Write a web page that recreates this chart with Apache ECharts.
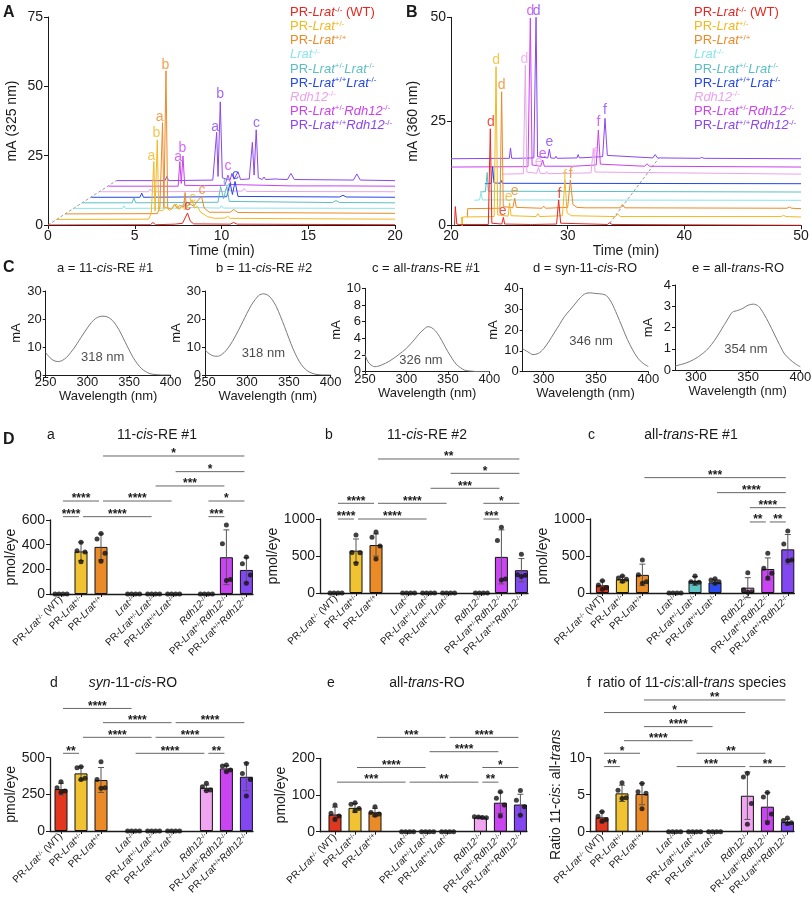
<!DOCTYPE html>
<html lang="en">
<head>
<meta charset="UTF-8">
<title>Retinoid HPLC and quantification</title>
<style>
  html, body { margin: 0; background: #fff; }
  #chart { width: 812px; height: 900px; }
</style>
</head>
<body>
<div id="chart"></div>
<script src="https://cdn.jsdelivr.net/npm/echarts@6/dist/echarts.min.js"></script>
<script>
var FONT = 'Liberation Sans, Arial, Helvetica, sans-serif';
var INK = '#1a1a1a';

// ---- groups ----
var groupNames = ['PR-Lrat-/- (WT)', 'PR-Lrat+/-', 'PR-Lrat+/+', 'Lrat-/-', 'PR-Lrat+/-Lrat-/-',
  'PR-Lrat+/+Lrat-/-', 'Rdh12-/-', 'PR-Lrat+/-Rdh12-/-', 'PR-Lrat+/+Rdh12-/-'];
var groupLabels = ['PR-{i|Lrat}{s|-/-} (WT)', 'PR-{i|Lrat}{s|+/-}', 'PR-{i|Lrat}{s|+/+}', '{i|Lrat}{s|-/-}',
  'PR-{i|Lrat}{s|+/-}{i|Lrat}{s|-/-}', 'PR-{i|Lrat}{s|+/+}{i|Lrat}{s|-/-}', '{i|Rdh12}{s|-/-}',
  'PR-{i|Lrat}{s|+/-}{i|Rdh12}{s|-/-}', 'PR-{i|Lrat}{s|+/+}{i|Rdh12}{s|-/-}'];
var traceColors = ['#e8251f', '#f4b81f', '#ed8a26', '#8ae4ee', '#5bbfc2', '#2346ef', '#eba3ec', '#cc40f1', '#8a45ef'];
var barColors = ['#e3361f', '#f1c232', '#eb8b27', '#8ae4ee', '#5ec6c6', '#2b4cf2', '#efa5f0', '#c945f2', '#8347f1'];

// ---- A: chromatograms at 325 nm (stacked as drawn) ----
var tracesA = [
  [[0,0],[5.9,0.1],[6.05,0.9],[6.2,0.1],[7.3,0.3],[7.75,0.6],[8.04,4.3],[8.2,1.4],[8.4,0.4],[10.5,0.3],[10.7,0.9],[10.9,0.3],[20,0.1]],
  [[0.5,2],[5.8,2.1],[5.95,4.2],[6.1,22.9],[6.17,5],[6.3,30.7],[6.38,5.4],[6.6,5.1],[6.8,6.5],[7.0,5.2],[7.2,6.3],[7.4,7.6],[7.55,5.6],[7.7,6.9],[7.9,5.5],[8.1,7.4],[8.3,9.1],[8.45,6.1],[8.6,6.7],[8.8,4.6],[9.2,3.0],[9.6,2.4],[10.2,2.5],[10.35,3.1],[10.5,2.4],[20,2.1]],
  [[1,4],[6.3,4.1],[6.45,6.5],[6.6,36.9],[6.68,6.2],[6.8,55.6],[6.9,6.2],[7.1,5.6],[7.3,7.5],[7.45,6],[7.6,7.1],[7.82,6.5],[7.9,11.7],[7.98,6.6],[8.2,7.5],[8.4,6.8],[8.6,8.5],[8.85,10.3],[9.0,6.1],[9.3,4.6],[10.5,4.6],[10.7,5.6],[10.95,4.5],[20,4.2]],
  [[1.5,6],[4.3,6],[4.38,6.9],[4.46,6],[7.7,6.1],[7.85,8.8],[8.0,6.3],[9.9,6.1],[10.0,7],[10.1,6.1],[20,6]],
  [[2,8],[4.85,8],[4.95,9.8],[5.05,8],[9.8,8.2],[9.95,13.9],[10.12,9.5],[10.3,13.9],[10.45,8.5],[16.4,8.1],[16.6,8.8],[16.8,8.1],[20,8]],
  [[2.5,10],[5.3,10],[5.4,11.5],[5.5,10],[10.3,10.2],[10.5,15.1],[10.63,11],[10.78,15.7],[10.95,10.3],[16.8,10.1],[17.0,10.7],[17.2,10.1],[20,10]],
  [[3,12],[5.8,12],[5.9,13],[6.0,12],[10.2,12.1],[10.35,13.8],[10.5,12.3],[11.2,12.2],[11.3,13.2],[11.45,12.1],[20,12]],
  [[3.5,14],[7.5,14],[7.6,22.9],[7.68,15],[7.78,24.9],[7.88,14.3],[8.8,14.2],[8.9,14.9],[9.0,14.2],[10.2,14.3],[10.37,18],[10.55,14.6],[14.0,14.1],[14.1,14.6],[14.2,14.1],[16.5,14.1],[16.6,14.6],[16.7,14.1],[20,14]],
  [[3.94,16],[6.75,16],[6.85,17.5],[6.95,16],[9.5,16.2],[9.72,33.4],[9.8,17.5],[9.93,44.4],[10.05,17],[10.3,16.5],[10.5,16.3],[10.6,18.6],[10.72,16.5],[10.95,19.2],[11.1,16.4],[11.6,16.6],[11.78,29.8],[11.88,18],[12.0,34.3],[12.12,17],[12.35,16.4],[12.45,17.3],[12.55,16.4],[13.1,16.6],[13.2,17],[13.3,16.5],[13.8,16.4],[14.0,18.6],[14.2,16.4],[17.6,16.2],[17.8,18.4],[18.0,16.2],[20,16]]
];
var peaksA = [[5.96,25.0,'a',1],[6.25,33.1,'b',1],[6.44,38.8,'a',2],[6.77,57.6,'b',2],
  [7.5,24.4,'a',7],[7.75,27.7,'b',7],[9.63,35.4,'a',8],[9.92,47.1,'b',8],[12.02,36.6,'c',8],
  [8.04,6.7,'c',0],[8.33,9.7,'c',1],[8.87,12.5,'c',2],[10.29,15.3,'c',4],[10.81,18.1,'c',5],[10.38,21.1,'c',7]];
var guideA = [[0,0],[3.94,16]];

// ---- B: chromatograms at 360 nm ----
var tracesB = [
  [[20.3,0],[20.37,4.5],[20.45,4.5],[20.5,0.3],[20.7,0.2],[23.2,0.2],[23.37,23.2],[23.5,0.5],[24.35,0.3],[24.49,1.9],[24.6,0.3],[26.8,0.2],[26.9,0.6],[27.0,0.2],[29.05,0.3],[29.23,6.1],[29.4,0.5],[33.4,0.2],[33.6,0.6],[33.8,0.2],[50,0]],
  [[20.9,2],[20.95,-0.7],[21.0,2],[23.7,2.1],[23.86,38.1],[24.0,2.5],[24.9,2.2],[25.02,5.4],[25.15,2.3],[27.3,2.1],[27.45,2.8],[27.6,2.1],[29.55,2.3],[29.77,10.9],[29.95,3],[30.3,2.3],[34.1,2.1],[34.3,2.7],[34.5,2.1],[48.3,2.1],[48.5,2.4],[48.7,2.1],[50,2]],
  [[21.4,2],[21.43,4],[24.2,4.1],[24.34,32.1],[24.48,4.5],[25.3,4.2],[25.46,6.5],[25.6,4.3],[27.8,4.1],[27.95,4.6],[28.1,4.1],[30.0,4.3],[30.23,10.9],[30.45,5],[30.8,4.3],[31.5,4.2],[31.65,4.6],[31.8,4.2],[34.5,4.2],[34.7,5],[34.9,4.2],[48.8,4.1],[49.0,4.4],[49.2,4.1],[50,4]],
  [[22.0,6],[22.45,6.1],[22.57,7.8],[22.7,6.1],[50,6]],
  [[22.5,8],[22.95,8.1],[23.1,12.7],[23.2,8.2],[50,8]],
  [[22.9,10],[23.45,10.1],[23.57,14.1],[23.68,10.2],[24.2,10.1],[24.3,10.8],[24.4,10.1],[50,10]],
  [[24.4,12.3],[26.2,12.4],[26.37,38.5],[26.5,12.8],[27.35,12.5],[27.5,13.9],[27.65,12.5],[28.1,12.4],[28.2,12.9],[28.3,12.4],[32.0,12.6],[32.2,18.5],[32.35,12.8],[50,12.3]],
  [[20,14],[26.6,14.1],[26.8,49.8],[26.95,14.5],[27.7,14.2],[27.86,15.7],[28.0,14.2],[30.3,14.2],[30.4,14.6],[30.5,14.2],[32.45,14.5],[32.63,22.9],[32.8,14.7],[36.6,14.2],[36.8,14.8],[37.0,14.2],[50,14]],
  [[20,16],[25.0,16.1],[25.1,18.6],[25.2,16.1],[25.5,16.1],[25.6,16.5],[25.7,16.1],[27.1,16.2],[27.29,50],[27.42,16.5],[28.3,16.2],[28.43,18.3],[28.55,16.2],[28.9,16.1],[29.0,16.6],[29.1,16.1],[30.8,16.2],[30.9,17],[31.0,16.2],[33.0,16.5],[33.2,25.7],[33.4,16.8],[37.3,16.2],[37.5,17],[37.7,16.2],[41.3,16.1],[41.5,16.3],[41.7,16.1],[50,16]]
];
var peaksB = [[23.43,24.7,'d',0],[24.43,3.5,'e',0],[29.29,7.5,'f',0],
  [23.86,39.6,'d',1],[24.94,6.7,'e',1],[29.77,11.9,'f',1],
  [24.34,33.8,'d',2],[25.46,8.3,'e',2],[30.26,12.3,'f',2],
  [26.29,39.9,'d',6],[27.51,15.1,'e',6],[32.34,17.1,'f',6],
  [26.8,51.4,'d',7],[27.86,17.1,'e',7],[32.63,24.7,'f',7],
  [27.34,51.4,'d',8],[28.43,19.9,'e',8],[33.2,27.7,'f',8]];
var guideB = [[33.6,0.5],[37.8,16.1]];

// ---- C: UV spectra ----
var specA = [[250,8],[255,6.2],[260,5.1],[265,4.8],[270,5.2],[275,6.3],[280,8],[285,10],[290,12.3],[295,14.6],[300,16.8],[305,18.8],[310,20.2],[315,20.9],[320,21],[325,20.6],[330,19.5],[335,17.6],[340,15],[345,12],[350,9],[355,6.2],[360,4],[365,2.3],[370,1.2],[375,0.5],[380,0.2],[385,0.1],[390,0],[400,0]];
var specB = [[250,9],[255,7.6],[260,6.8],[265,6.7],[270,7.3],[275,8.7],[280,10.7],[285,13.2],[290,16],[295,19],[300,22],[305,24.8],[310,27],[315,28.6],[320,29],[325,28.5],[330,27],[335,24.5],[340,21],[345,17.2],[350,13.2],[355,9.4],[360,6.2],[365,3.7],[370,2],[375,1],[380,0.4],[385,0.15],[390,0.05],[400,0]];
var specC = [[250,2.2],[252,1.5],[256,0.9],[262,0.6],[270,0.8],[280,1.3],[290,2],[300,2.8],[310,3.9],[315,4.5],[320,5],[326,5.4],[330,5.3],[335,4.9],[340,4.2],[345,3.3],[350,2.4],[355,1.6],[360,0.9],[365,0.5],[370,0.2],[375,0.1],[385,0.02],[400,0]];
var specD = [[280,11],[285,9.5],[290,8.2],[295,8.8],[300,11],[305,14.5],[310,18.5],[315,22.5],[320,26.5],[325,29.5],[330,32.5],[335,35.5],[340,37.5],[345,37.8],[350,37.5],[355,37.3],[360,36.5],[365,33],[370,27.5],[375,21.5],[380,15.5],[385,10.5],[390,6.5],[395,4],[400,2.5]];
var specE = [[280,0.18],[285,0.25],[290,0.32],[295,0.42],[300,0.55],[305,0.72],[310,0.92],[315,1.2],[320,1.55],[325,1.95],[330,2.35],[335,2.72],[340,2.8],[345,2.9],[350,3.05],[355,3.1],[360,3.0],[365,2.65],[370,2.2],[375,1.7],[380,1.2],[385,0.75],[390,0.5],[395,0.3],[400,0.15]];
var specNotes = [[318.4,6.3,'318 nm'],[319.6,7.7,'318 nm'],[317.6,1.4,'326 nm'],[345.3,14.4,'346 nm'],[348,0.99,'354 nm']];
var specTitles = ['a = 11-{i|cis}-RE #1', 'b = 11-{i|cis}-RE #2', 'c = all-{i|trans}-RE #1', 'd = syn-11-{i|cis}-RO', 'e = all-{i|trans}-RO'];

// ---- D: quantification (pmol/eye), bar = mean, whisker = SD ----
var slotPos = [0, 1, 2, 3.63, 4.63, 5.63, 7.27, 8.27, 9.27];
var zero4 = [0, 0, 0, 0];

var d1Mean = [0, 345, 382, 0, 0, 0, 0, 298, 195];
var d1Sd = [0, 75, 105, 0, 0, 0, 0, 222, 100];
var d1Dots = [zero4, [420,350,340,262], [490,445,330,265], zero4, zero4, zero4, zero4, [560,408,118,110], [300,245,155,88]];
var d1Sig = [[2,8,1119,1],[5,8,992,1],[4,7,876,3],[0,2,754,4],[2,5,754,4],[6,8,754,1],[0,1,627,4],[1,4,627,4],[6,7,627,3]];

var d2Mean = [0, 572, 648, 0, 0, 0, 0, 488, 308];
var d2Sd = [0, 158, 150, 0, 0, 0, 0, 365, 157];
var d2Dots = [zero4, [785,548,545,400], [825,752,635,460], zero4, zero4, zero4, zero4, [887,710,190,175], [525,245,240,222]];
var d2Sig = [[2,8,1811,2],[5,8,1617,1],[4,7,1415,3],[0,2,1212,4],[2,5,1212,4],[6,8,1212,1],[0,1,1000,4],[1,4,1000,4],[6,7,1000,3]];

var d3Mean = [104, 185, 245, 0, 162, 144, 72, 324, 590];
var d3Sd = [60, 45, 145, 0, 60, 35, 135, 150, 200];
var d3Dots = [[167,108,72,50], [230,203,185,158], [446,248,153,131], zero4, [230,153,144,140], [194,176,153,131], [275,40,18,9], [536,333,266,203], [838,662,446,437]];
var d3Sig = [[2,8,1559,3],[5,8,1356,4],[6,8,1153,4],[6,7,960,2],[7,8,960,2]];

var d4Mean = [286, 393, 348, 0, 0, 0, 295, 427, 370];
var d4Sd = [40, 45, 85, 0, 0, 0, 18, 18, 95];
var d4Dots = [[336,295,273,264], [439,432,359,352], [473,352,295,291], zero4, zero4, zero4, [325,302,280,275], [450,443,416,405], [461,393,352,239]];
var d4Sig = [[0,3,836,4],[2,5,739,4],[5,8,739,4],[1,4,639,4],[4,7,639,4],[0,1,530,2],[3,6,530,4],[6,7,530,2]];

var d5Mean = [47, 65, 53, 0, 0, 0, 39, 79, 74];
var d5Sd = [20, 12, 11, 0, 0, 0, 3, 29, 28];
var d5Dots = [[73,50,43,34], [79,75,63,57], [68,52,48,45], zero4, zero4, zero4, [41,40,39,38], [109,91,73,43], [112,86,68,45]];
var d5Sig = [[2,5,257,3],[5,8,257,4],[4,7,218,4],[1,4,175,4],[6,8,175,1],[0,3,135,3],[3,6,135,2],[6,7,135,2]];

var d6Mean = [1.94, 5.18, 5.09, 0, 0, 0, 4.86, 3.38, 1.3];
var d6Sd = [0.75, 1.1, 1.45, 0, 0, 0, 3.2, 1.9, 0.4];
var d6Dots = [[2.7,2.1,1.6,1.4], [6.6,5.6,4.6,4.5], [6.5,5.4,5.2,3.1], zero4, zero4, zero4, [7.9,7.4,3.8,1.0], [5.3,4.7,2.4,1.2], [1.85,1.5,1.2,1.1]];
var d6Sig = [[2,8,17.8,2],[0,6,16.1,1],[2,5,14.2,4],[1,4,12.3,4],[0,2,10.6,1],[4,7,10.6,2],[0,1,8.8,2],[3,6,8.8,3],[6,8,8.8,2]];

// ---------------------------------------------------------------
function merge(a, b) {
  for (var k in b) {
    if (b[k] && typeof b[k] === 'object' && !Array.isArray(b[k]) && a[k] && typeof a[k] === 'object') {
      a[k] = Object.assign({}, a[k], b[k]);
    } else {
      a[k] = b[k];
    }
  }
  return a;
}

var grid = [], xAxis = [], yAxis = [], series = [], graphic = [];

function addGrid(left, top, width, height) {
  grid.push({left: left, top: top, width: width, height: height, containLabel: false, outerBoundsMode: 'none'});
  return grid.length - 1;
}

function plainNum(v) { return String(v); }

function axis(g, min, max, interval, extra) {
  return merge({
    gridIndex: g, type: 'value', min: min, max: max, interval: interval,
    axisLine: {show: true, onZero: false, lineStyle: {color: INK, width: 1}},
    axisTick: {show: true, inside: false, length: 4, lineStyle: {color: INK, width: 1}},
    axisLabel: {show: true, color: INK, fontSize: 14, fontFamily: FONT, margin: 4, formatter: plainNum},
    splitLine: {show: false},
    nameLocation: 'middle',
    nameTextStyle: {color: INK, fontSize: 14, fontFamily: FONT}
  }, extra || {});
}

function text(x, y, str, size, opt) {
  opt = opt || {};
  graphic.push({
    type: 'text', x: x, y: y, silent: true,
    style: {
      text: str, fill: INK, fontSize: size, fontFamily: FONT, fontWeight: opt.bold ? 'bold' : 'normal',
      align: opt.align || 'center', verticalAlign: 'middle',
      rich: {i: {fontStyle: 'italic', fontSize: size, fontFamily: FONT, fill: INK}}
    }
  });
}

// ---- A and B chromatograms ----
function chromPanel(g, traces, peaks, guide) {
  traces.forEach(function (tr, i) {
    series.push({
      type: 'line', name: groupNames[i], xAxisIndex: g, yAxisIndex: g, data: tr,
      symbol: 'none', showSymbol: false, z: 20 - i,
      lineStyle: {width: 1, color: traceColors[i]}, itemStyle: {color: traceColors[i]}
    });
  });
  series.push({
    type: 'line', xAxisIndex: g, yAxisIndex: g, data: guide, symbol: 'none', z: 5,
    lineStyle: {width: 1, color: '#9a9a9a', type: [3, 2]}
  });
  series.push({
    type: 'scatter', xAxisIndex: g, yAxisIndex: g, symbolSize: 0, clip: false, z: 30,
    data: peaks.map(function (p) {
      return {name: p[2], value: [p[0], p[1]], label: {color: traceColors[p[3]]}};
    }),
    label: {show: true, position: 'inside', formatter: '{b}', fontSize: 14, fontFamily: FONT}
  });
}

var gA = addGrid(48, 17, 347, 208);
xAxis.push(axis(gA, 0, 20, 5, {name: 'Time (min)', nameGap: 16}));
yAxis.push(axis(gA, 0, 75, 25, {name: 'mA (325 nm)', nameGap: 29, axisLabel: {margin: 5}}));
chromPanel(gA, tracesA, peaksA, guideA);

var gB = addGrid(451, 17.3, 350, 208);
xAxis.push(axis(gB, 20, 50, 10, {name: 'Time (min)', nameGap: 16}));
yAxis.push(axis(gB, 0, 50, 25, {name: 'mA (360 nm)', nameGap: 31, axisLabel: {margin: 5}}));
chromPanel(gB, tracesB, peaksB, guideB);

// ---- C spectra ----
var specPanels = [
  {data: specA, left: 45.7, top: 291, w: 125, h: 84, xmin: 250, ymax: 30, yStep: 10, gap: 19, tx: 105},
  {data: specB, left: 205, top: 291, w: 125.7, h: 84, xmin: 250, ymax: 30, yStep: 10, gap: 18.5, tx: 264},
  {data: specC, left: 365, top: 288.3, w: 124.3, h: 83.4, xmin: 250, ymax: 10, yStep: 2, gap: 18.5, tx: 426},
  {data: specD, left: 522.7, top: 288.3, w: 125.6, h: 83.4, xmin: 280, ymax: 40, yStep: 10, gap: 22.5, tx: 585},
  {data: specE, left: 675, top: 285, w: 125.3, h: 85, xmin: 280, ymax: 4, yStep: 1, gap: 20.5, tx: 738}
];
specPanels.forEach(function (p, k) {
  var g = addGrid(p.left, p.top, p.w, p.h);
  var xOpt = {name: 'Wavelength (nm)', nameGap: 9, nameTextStyle: {fontSize: 13},
    axisTick: {length: 2}, axisLabel: {fontSize: 13, margin: 1}};
  if (p.xmin === 280) {
    xOpt.axisLabel.customValues = [300, 350, 400];
    xOpt.axisTick.customValues = [300, 350, 400];
    xAxis.push(axis(g, 280, 400, null, xOpt));
  } else {
    xAxis.push(axis(g, 250, 400, 50, xOpt));
  }
  yAxis.push(axis(g, 0, p.ymax, p.yStep, {name: 'mA', nameGap: p.gap, nameTextStyle: {fontSize: 13},
    axisTick: {length: 3}, axisLabel: {fontSize: 13, margin: 4}}));
  series.push({
    type: 'line', xAxisIndex: g, yAxisIndex: g, data: p.data, symbol: 'none', smooth: 0.3,
    lineStyle: {width: 1, color: '#7a7a7a'}
  });
  var n = specNotes[k];
  series.push({
    type: 'scatter', xAxisIndex: g, yAxisIndex: g, symbolSize: 0, clip: false,
    data: [{name: n[2], value: [n[0], n[1]]}],
    label: {show: true, position: 'inside', formatter: '{b}', fontSize: 13, fontFamily: FONT, color: INK}
  });
  text(p.tx, 268.5, specTitles[k], 13);
});

// ---- D bar charts ----
var dPanels = [
  {mean: d1Mean, sd: d1Sd, dots: d1Dots, sig: d1Sig, max: 600, step: 200, left: 50, top: 520, h: 74, lead: 0.55,
   letter: 'a', lx: 47, title: '11-{i|cis}-RE #1', tx: 157, ty: 435},
  {mean: d2Mean, sd: d2Sd, dots: d2Dots, sig: d2Sig, max: 1000, step: 500, left: 320, top: 519, h: 74, lead: 0.8,
   letter: 'b', lx: 325, title: '11-{i|cis}-RE #2', tx: 427, ty: 435},
  {mean: d3Mean, sd: d3Sd, dots: d3Dots, sig: d3Sig, max: 1000, step: 500, left: 590, top: 519, h: 74, lead: 0.62,
   letter: 'c', lx: 588, title: 'all-{i|trans}-RE #1', tx: 691, ty: 435},
  {mean: d4Mean, sd: d4Sd, dots: d4Dots, sig: d4Sig, max: 500, step: 250, left: 50, top: 757.7, h: 73.3, lead: 0.55,
   letter: 'd', lx: 50, title: '{i|syn}-11-{i|cis}-RO', tx: 133, ty: 683},
  {mean: d5Mean, sd: d5Sd, dots: d5Dots, sig: d5Sig, max: 200, step: 100, left: 320, top: 758.3, h: 73.4, lead: 0.75,
   letter: 'e', lx: 327, title: 'all-{i|trans}-RO', tx: 427, ty: 683},
  {mean: d6Mean, sd: d6Sd, dots: d6Dots, sig: d6Sig, max: 10, step: 5, left: 590, top: 757.7, h: 74, lead: 0.6,
   letter: 'f', lx: 587, title: 'ratio of 11-{i|cis}:all-{i|trans} species', tx: 692, ty: 683,
   yName: 'Ratio 11-{i|cis}: all-{i|trans}'}
];
var rowPattern = [-0.3, -0.1, 0.1, 0.3];
var spreadPattern = [0, -0.2, 0.2, 0];

function errRender(params, api) {
  var x = api.value(0);
  var lo = api.coord([x, api.value(1)]);
  var hi = api.coord([x, api.value(2)]);
  var c = 3, st = {stroke: '#555', lineWidth: 1};
  return {type: 'group', children: [
    {type: 'line', shape: {x1: hi[0], y1: hi[1], x2: lo[0], y2: lo[1]}, style: st},
    {type: 'line', shape: {x1: hi[0] - c, y1: hi[1], x2: hi[0] + c, y2: hi[1]}, style: st},
    {type: 'line', shape: {x1: lo[0] - c, y1: lo[1], x2: lo[0] + c, y2: lo[1]}, style: st}
  ]};
}

function sigRender(params, api) {
  var y = api.value(2);
  var p1 = api.coord([api.value(0), y]);
  var p2 = api.coord([api.value(1), y]);
  return {type: 'group', children: [
    {type: 'line', shape: {x1: p1[0] + 2, y1: p1[1], x2: p2[0] - 2, y2: p2[1]}, style: {stroke: '#666', lineWidth: 1}},
    {type: 'text', x: (p1[0] + p2[0]) / 2, y: p1[1] - 2,
     style: {text: new Array(api.value(3) + 1).join('*'), fill: INK, fontSize: 12, fontWeight: 'bold',
             fontFamily: FONT, align: 'center', verticalAlign: 'middle'}}
  ]};
}

dPanels.forEach(function (p) {
  var g = addGrid(p.left, p.top, (9.6 + p.lead) * 20, p.h);
  xAxis.push(axis(g, -p.lead, 9.6, null, {
    axisTick: {length: 3, customValues: slotPos},
    axisLine: {lineStyle: {color: INK, width: 1.3}},
    axisLabel: {
      customValues: slotPos, rotate: 45, fontSize: 10, margin: 4,
      formatter: function (v) {
        for (var i = 0; i < slotPos.length; i++) { if (Math.abs(slotPos[i] - v) < 0.01) return groupLabels[i]; }
        return '';
      },
      rich: {
        i: {fontStyle: 'italic', fontSize: 10, fontFamily: FONT, color: INK},
        s: {fontSize: 6.5, fontFamily: FONT, color: INK, lineHeight: 7, verticalAlign: 'top'}
      }
    }
  }));
  yAxis.push(axis(g, 0, p.max, p.step, {
    name: p.yName || 'pmol/eye', nameGap: p.yName ? 27 : 29,
    axisLine: {lineStyle: {color: INK, width: 1.3}},
    nameTextStyle: {rich: {i: {fontStyle: 'italic', fontSize: 14, fontFamily: FONT, color: INK}}},
    axisLabel: {margin: 5}
  }));

  var bars = [], errs = [], dots = [];
  p.mean.forEach(function (m, i) {
    if (m > 0) {
      bars.push({value: [slotPos[i], m], itemStyle: {color: barColors[i]}});
    }
    if (p.sd[i] > 0) errs.push([slotPos[i], m - p.sd[i], m + p.sd[i]]);
    var vals = p.dots[i];
    var spread = Math.max.apply(null, vals) - Math.min.apply(null, vals);
    var pat = spread < 0.05 * p.max ? rowPattern : spreadPattern;
    vals.forEach(function (v, j) { dots.push([slotPos[i] + pat[j], v]); });
  });

  series.push({
    type: 'bar', xAxisIndex: g, yAxisIndex: g, data: bars, barWidth: 13, z: 2,
    itemStyle: {borderColor: '#111', borderWidth: 1}
  });
  series.push({
    type: 'custom', xAxisIndex: g, yAxisIndex: g, data: errs, renderItem: errRender, z: 3, clip: false,
    encode: {x: 0, y: [1, 2]}
  });
  series.push({
    type: 'scatter', xAxisIndex: g, yAxisIndex: g, data: dots, symbolSize: 5, z: 4, clip: false,
    itemStyle: {color: '#111'}
  });
  series.push({
    type: 'custom', xAxisIndex: g, yAxisIndex: g, renderItem: sigRender, z: 4, clip: false,
    encode: {x: [0, 1], y: 2},
    data: p.sig.map(function (s) { return [slotPos[s[0]], slotPos[s[1]], s[2], s[3]]; })
  });

  text(p.lx, p.ty, p.letter, 14, {align: 'left'});
  text(p.tx, p.ty, p.title, 14);
});

// ---- panel letters ----
text(3, 13, 'A', 16, {bold: true, align: 'left'});
text(406, 13, 'B', 16, {bold: true, align: 'left'});
text(3, 268, 'C', 16, {bold: true, align: 'left'});
text(3, 440, 'D', 16, {bold: true, align: 'left'});

// ---- legends (coloured text only) ----
function legendAt(left) {
  return {
    left: left, top: 5.5, orient: 'vertical', padding: 0, itemGap: 0, itemWidth: 0, itemHeight: 0,
    selectedMode: false,
    data: groupNames.map(function (n, i) { return {name: n, textStyle: {color: traceColors[i]}}; }),
    formatter: function (n) { return groupLabels[groupNames.indexOf(n)]; },
    textStyle: {
      fontSize: 13, fontFamily: FONT, lineHeight: 14.1, padding: 0,
      rich: {
        i: {fontStyle: 'italic', fontSize: 13, fontFamily: FONT, lineHeight: 14.1},
        s: {fontSize: 8, fontFamily: FONT, lineHeight: 9, verticalAlign: 'top'}
      }
    }
  };
}

var chart = echarts.init(document.getElementById('chart'));
chart.setOption({
  animation: false,
  backgroundColor: '#fff',
  textStyle: {fontFamily: FONT},
  legend: [legendAt(284), legendAt(688)],
  grid: grid,
  xAxis: xAxis,
  yAxis: yAxis,
  series: series,
  graphic: graphic
});
</script>
</body>
</html>
